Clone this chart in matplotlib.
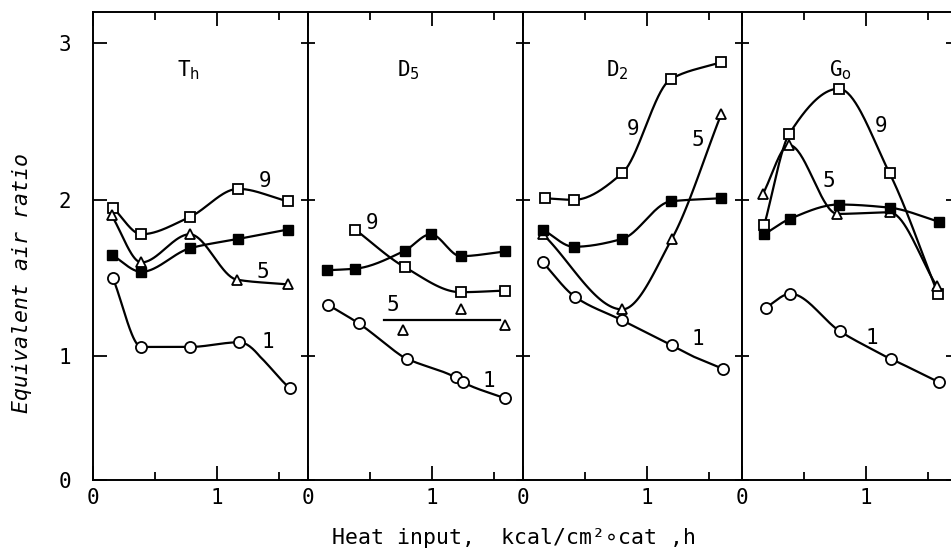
import numpy as np
import matplotlib.pyplot as plt

plt.rcParams['font.family'] = ['DejaVu Sans Mono', 'DejaVu Sans']
plt.rcParams['mathtext.fontset'] = 'dejavusans'

# ---- data (x: heat input, y: equivalent air ratio)
# Th
th_x_9 = [0.16, 0.39, 0.78, 1.17, 1.57]
th_y_9 = [1.95, 1.78, 1.89, 2.07, 1.99]
th_x_5 = [0.15, 0.39, 0.78, 1.16, 1.57]
th_y_5 = [1.90, 1.60, 1.78, 1.49, 1.46]
th_x_f = [0.15, 0.39, 0.78, 1.17, 1.57]
th_y_f = [1.65, 1.54, 1.69, 1.75, 1.81]
th_x_1 = [0.16, 0.39, 0.78, 1.18, 1.59]
th_y_1 = [1.50, 1.06, 1.06, 1.09, 0.74]
# D5
d5_x_9 = [0.38, 0.78, 1.23, 1.59]
d5_y_9 = [1.81, 1.57, 1.41, 1.42]
d5_x_5 = [0.77, 1.23, 1.59]
d5_y_5 = [1.17, 1.30, 1.20]
d5_fit5_x = [0.61, 1.55]
d5_fit5_y = [1.23, 1.23]
d5_x_f = [0.15, 0.38, 0.78, 0.99, 1.23, 1.59]
d5_y_f = [1.55, 1.56, 1.675, 1.78, 1.64, 1.67]
d5_x_1 = [0.16, 0.41, 0.80, 1.19, 1.25, 1.59]
d5_y_1 = [1.33, 1.21, 0.98, 0.83, 0.79, 0.66]
# D2
d2_x_9 = [0.18, 0.41, 0.80, 1.19, 1.60]
d2_y_9 = [2.01, 2.00, 2.17, 2.77, 2.88]
d2_x_5 = [0.16, 0.80, 1.20, 1.60]
d2_y_5 = [1.78, 1.30, 1.75, 2.55]
d2_x_f = [0.16, 0.41, 0.80, 1.19, 1.60]
d2_y_f = [1.81, 1.70, 1.75, 1.99, 2.01]
d2_x_1 = [0.16, 0.42, 0.80, 1.20, 1.61]
d2_y_1 = [1.60, 1.38, 1.23, 1.07, 0.90]
# Go
go_x_9 = [0.18, 0.38, 0.78, 1.19, 1.58]
go_y_9 = [1.84, 2.42, 2.71, 2.17, 1.40]
go_x_5 = [0.17, 0.38, 0.77, 1.19, 1.57]
go_y_5 = [2.04, 2.35, 1.91, 1.92, 1.45]
go_x_f = [0.18, 0.39, 0.78, 1.19, 1.59]
go_y_f = [1.78, 1.88, 1.97, 1.95, 1.86]
go_x_1 = [0.19, 0.39, 0.79, 1.20, 1.59]
go_y_1 = [1.31, 1.40, 1.16, 0.98, 0.79]

titles = [r'T$_\mathrm{h}$', r'D$_5$', r'D$_2$', r'G$_\mathrm{o}$']
title_x = [0.77, 0.81, 0.76, 0.79]


def smooth(x, y, n=40):
    # monotone hermite (pchip) curve through the points, like the hand drawn lines
    x = np.asarray(x, float)
    y = np.asarray(y, float)
    if len(x) < 3:
        return x, y
    h = np.diff(x)
    d = np.diff(y) / h
    m = np.zeros_like(y)
    for k in range(1, len(x) - 1):
        if d[k - 1] * d[k] > 0:
            w1 = 2 * h[k] + h[k - 1]
            w2 = h[k] + 2 * h[k - 1]
            m[k] = (w1 + w2) / (w1 / d[k - 1] + w2 / d[k])
    m[0] = d[0]
    m[-1] = d[-1]
    t = np.linspace(0, 1, n)
    h00 = 2 * t**3 - 3 * t**2 + 1
    h10 = t**3 - 2 * t**2 + t
    h01 = -2 * t**3 + 3 * t**2
    h11 = t**3 - t**2
    xs, ys = [], []
    for i in range(len(x) - 1):
        xs.append(x[i] + t * h[i])
        ys.append(h00 * y[i] + h10 * h[i] * m[i] + h01 * y[i + 1] + h11 * h[i] * m[i + 1])
    return np.concatenate(xs), np.concatenate(ys)


def fwd(v):
    v = np.asarray(v, float)
    return np.where(v < 1, v * 0.79, v - 0.21)


def inv(u):
    u = np.asarray(u, float)
    return np.where(u < 0.79, u / 0.79, u + 0.21)


open_kw = dict(color='black', mfc='white', mec='black', mew=1.3, ls='none', zorder=3)
line_kw = dict(color='black', lw=1.6, zorder=2)

fig = plt.figure(figsize=(9.51, 5.57), dpi=100)
W, H = 951., 557.
lefts = [93, 308, 523, 742]
rights = [308, 523, 742, 953]
bot, top = 480, 12
axes = []
for i in range(4):
    ax = fig.add_axes([lefts[i] / W, 1 - bot / H, (rights[i] - lefts[i]) / W, (bot - top) / H])
    ax.set_yscale('function', functions=(fwd, inv))
    ax.set_xlim(0, (rights[i] - lefts[i]) / 124.)
    ax.set_ylim(0, 3.2)
    for s in ax.spines.values():
        s.set_linewidth(1.4)
    ax.set_xticks([0, 1])
    ax.set_xticklabels(['0', '1'])
    ax.set_xticks([0.5, 1.5], minor=True)
    ax.tick_params(axis='x', which='both', direction='in', top=True, bottom=True, width=1.3)
    ax.tick_params(axis='x', which='major', length=10, labelsize=15, pad=6)
    ax.tick_params(axis='x', which='minor', length=6)
    ax.set_yticks([0, 1, 2, 3])
    ax.yaxis.set_minor_locator(plt.NullLocator())
    if i == 0:
        ax.set_yticklabels(['0', '1', '2', '3'])
        ax.tick_params(axis='y', direction='in', length=10, width=1.3, labelsize=15, pad=16)
    else:
        ax.tick_params(axis='y', direction='inout', length=10, width=1.3, labelleft=False,
                       right=(i == 3))
    ax.text(title_x[i], 2.83, titles[i], fontsize=15, ha='center', va='center')
    axes.append(ax)

panels = [
    (th_x_9, th_y_9, th_x_5, th_y_5, th_x_f, th_y_f, th_x_1, th_y_1),
    (d5_x_9, d5_y_9, d5_x_5, d5_y_5, d5_x_f, d5_y_f, d5_x_1, d5_y_1),
    (d2_x_9, d2_y_9, d2_x_5, d2_y_5, d2_x_f, d2_y_f, d2_x_1, d2_y_1),
    (go_x_9, go_y_9, go_x_5, go_y_5, go_x_f, go_y_f, go_x_1, go_y_1),
]
for i, (x9, y9, x5, y5, xf, yf, x1, y1) in enumerate(panels):
    ax = axes[i]
    ax.plot(*smooth(x9, y9), **line_kw)
    if i == 1:
        ax.plot(d5_fit5_x, d5_fit5_y, **line_kw)
    else:
        ax.plot(*smooth(x5, y5), **line_kw)
    ax.plot(*smooth(xf, yf), **line_kw)
    ax.plot(*smooth(x1, y1), **line_kw)
    ax.plot(x9, y9, marker='s', ms=6.5, **open_kw)
    ax.plot(x5, y5, marker='^', ms=7.5, **open_kw)
    ax.plot(xf, yf, marker='s', ms=6.5, color='black', ls='none', zorder=3)
    ax.plot(x1, y1, marker='o', ms=8, **open_kw)

# curve labels
curve_labels = [
    (0, 1.39, 2.12, '9'), (0, 1.37, 1.54, '5'), (0, 1.41, 1.09, '1'),
    (1, 0.52, 1.85, '9'), (1, 0.68, 1.33, '5'), (1, 1.46, 0.80, '1'),
    (2, 0.89, 2.45, '9'), (2, 1.41, 2.38, '5'), (2, 1.41, 1.11, '1'),
    (3, 1.12, 2.47, '9'), (3, 0.70, 2.12, '5'), (3, 1.05, 1.12, '1'),
]
for i, x, y, s in curve_labels:
    axes[i].text(x, y, s, fontsize=15, ha='center', va='center')

fig.text(514 / W, 1 - 538 / H, 'Heat input,  kcal/cm²∘cat ,h', fontsize=15.5,
         ha='center', va='center')
fig.text(22 / W, 1 - 283 / H, 'Equivalent air ratio', fontsize=15.5, style='italic',
         rotation=90, ha='center', va='center')

fig.savefig('out.png', dpi=100)
